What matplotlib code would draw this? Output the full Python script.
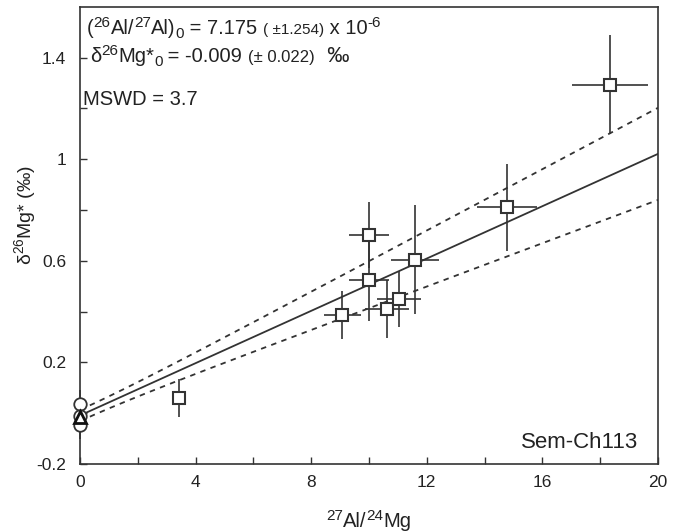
import numpy as np
import matplotlib.pyplot as plt
from matplotlib.transforms import offset_copy

plt.rcParams['font.family'] = ['Liberation Sans', 'DejaVu Sans']
plt.rcParams['mathtext.fontset'] = 'custom'
plt.rcParams['mathtext.rm'] = 'Liberation Sans'
plt.rcParams['mathtext.it'] = 'Liberation Sans:italic'
plt.rcParams['mathtext.bf'] = 'Liberation Sans:bold'

# 데이터 (square points)
al_mg = [3.43, 9.07, 10.0, 10.0, 10.62, 11.04, 11.59, 14.78, 18.34]
al_mg_err = [0.1, 0.64, 0.7, 0.7, 0.75, 0.77, 0.83, 1.05, 1.31]
d26 = [0.06, 0.387, 0.70, 0.525, 0.41, 0.45, 0.604, 0.81, 1.294]
d26_err = [0.075, 0.095, 0.13, 0.16, 0.115, 0.11, 0.215, 0.17, 0.195]

# points at Al/Mg = 0
circ_y = [0.035, -0.01, -0.045]
circ_err = [0.055, 0.04, 0.055]
tri_y = [-0.015]

# isochron parameters
r0 = 7.175e-6
r0_err = 1.254e-6
d0 = -0.009
d0_err = 0.022
mg_ratio = 0.13932

xticks = [0, 4, 8, 12, 16, 20]
yticks = [-0.2, 0.2, 0.6, 1, 1.4]
yticklabels = ['-0.2', '0.2', '0.6', '1', '1.4']

c = '#333333'
tc = '#222222'
fig = plt.figure(figsize=(6.9, 5.32), dpi=100)
ax = fig.add_axes([0.1159, 0.1278, 0.8377, 0.8594])

# 회귀선
slope = r0 / mg_ratio * 1000
slope_err = r0_err / mg_ratio * 1000
xs = np.linspace(0, 20, 200)
fit = d0 + slope * xs
env = np.sqrt(d0_err ** 2 + (xs * slope_err) ** 2)
ax.plot(xs, fit, color=c, lw=1.3)
ax.plot(xs, fit + env, color=c, lw=1.3, ls=(0, (3, 3)))
ax.plot(xs, fit - env, color=c, lw=1.3, ls=(0, (3, 3)))

ax.errorbar(al_mg, d26, xerr=al_mg_err, yerr=d26_err, fmt='s', ms=9,
            mfc='white', mec=c, mew=1.5, ecolor=c, elinewidth=1.2,
            capsize=0, zorder=3)
ax.errorbar([0] * len(circ_y), circ_y, yerr=circ_err, fmt='o', ms=9,
            mfc='white', mec=c, mew=1.3, ecolor=c, elinewidth=1.2,
            capsize=0, zorder=3, clip_on=False)
ax.plot([0] * len(tri_y), tri_y, '^', ms=9, mfc='white', mec='#111111',
        mew=2, zorder=4, clip_on=False)

ax.set_xlim(0, 20)
ax.set_ylim(-0.2, 1.6)
ax.set_xticks(xticks)
ax.set_xticks([2, 6, 10, 14, 18], minor=True)
ax.set_yticks(yticks)
ax.set_yticklabels(yticklabels)
ax.set_yticks([0, 0.4, 0.8, 1.2], minor=True)
ax.tick_params(which='both', direction='in', colors=c, labelcolor=tc,
               labelsize=12.5, length=5, width=1)
ax.tick_params(axis='y', pad=10)
ax.tick_params(axis='x', pad=8)
for s in ax.spines.values():
    s.set_color(c)
    s.set_linewidth(1.2)

ax.set_ylabel('δ$^{26}$Mg* (‰)', fontsize=14, color=tc)
ax.yaxis.set_label_coords(-0.072, 0.545)

ax.text(0.965, 0.035, 'Sem-Ch113', transform=ax.transAxes, fontsize=16,
        ha='right', va='baseline', color=tc)


def put_pieces(x, y, pieces, center=False):
    renderer = fig.canvas.get_renderer()
    dx = 0
    texts = []
    for s, size, dy in pieces:
        t = ax.text(x, y, s, fontsize=size, va='baseline', ha='left',
                    color=tc, clip_on=False)
        texts.append((t, dx, dy))
        t.set_transform(offset_copy(ax.transAxes, fig=fig, x=dx, y=dy,
                                    units='dots'))
        dx += t.get_window_extent(renderer=renderer).width
    if center:
        for t, x0, dy in texts:
            t.set_transform(offset_copy(ax.transAxes, fig=fig,
                                        x=x0 - dx / 2, y=dy, units='dots'))


put_pieces(0.012, 0.94, [('(', 14.5, 0), ('26', 11, 7), ('Al/', 14.5, 0),
                         ('27', 11, 7), ('Al)', 14.5, 0), ('0', 11, -4),
                         (' = 7.175 ', 14.5, 0), ('( ±1.254)', 11, 0),
                         (' x 10', 14.5, 0), ('-6', 11, 7)])
put_pieces(0.017, 0.88, [('δ', 14.5, 0), ('26', 11, 7), ('Mg*', 14.5, 0),
                         ('0', 11, -4), (' = -0.009 ', 14.5, 0),
                         ('(± 0.022)', 12, 0), ('  ‰', 16, 0)])
put_pieces(0.005, 0.786, [('MSWD = 3.7', 14.5, 0)])

# x축 라벨
put_pieces(0.5, -0.138, [('27', 11, 7), ('Al/', 14.5, 0), ('24', 11, 7),
                         ('Mg', 14.5, 0)], center=True)

fig.savefig('out.png', dpi=100)
